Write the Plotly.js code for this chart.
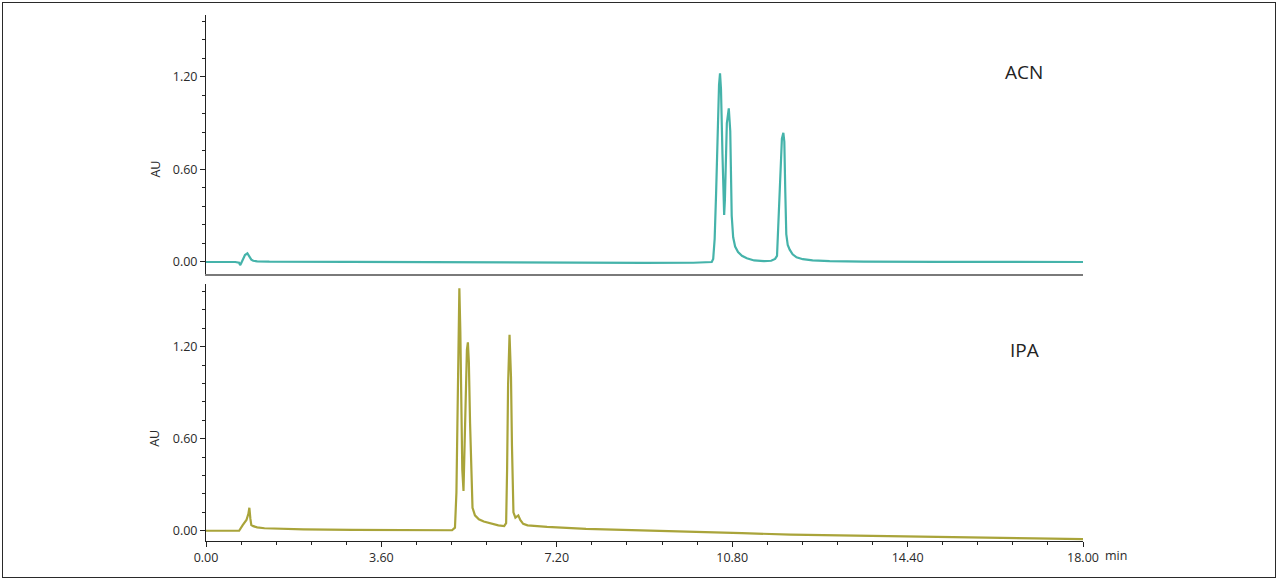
<!DOCTYPE html>
<html>
<head>
<meta charset="utf-8">
<script src="https://cdn.plot.ly/plotly-3.0.1.min.js"></script>
<style>
  html, body { margin: 0; padding: 0; background: #fff; }
  #wrap { position: relative; width: 1280px; height: 582px; }
  #chart { width: 1280px; height: 582px; }
  #frame { position: absolute; left: 2px; top: 2px; width: 1272px; height: 574px;
           border: 1.5px solid #2a2a2a; pointer-events: none; }
</style>
</head>
<body>
<div id="wrap"><div id="chart"></div><div id="frame"></div></div>
<script>
// ---- Data ----
const acnTime = [0, 0.6, 0.68, 0.70, 0.72, 0.76, 0.80, 0.85, 0.89, 0.93, 0.97, 1.05, 1.3, 2, 4, 6, 8, 9, 10, 10.3, 10.38,
  10.41, 10.44, 10.47, 10.50, 10.53, 10.55, 10.57, 10.60, 10.62, 10.635, 10.65, 10.67, 10.69, 10.73, 10.76, 10.79, 10.82, 10.86, 10.92,
  11.0, 11.1, 11.25, 11.45, 11.60, 11.68, 11.72, 11.75, 11.78, 11.82, 11.85, 11.87, 11.89, 11.91, 11.94, 11.98, 12.04,
  12.12, 12.25, 12.45, 12.8, 13.5, 15, 16.5, 18];
const acnAU = [0, 0, -0.005, -0.02, -0.01, 0.02, 0.045, 0.056, 0.035, 0.015, 0.008, 0.004, 0.002, 0.001, 0, -0.002, -0.006, -0.006, -0.005, -0.004, 0.0,
  0.02, 0.15, 0.45, 0.85, 1.15, 1.224, 1.12, 0.7, 0.38, 0.305, 0.4, 0.7, 0.9, 0.997, 0.85, 0.3, 0.16, 0.1, 0.065,
  0.04, 0.024, 0.01, 0.006, 0.008, 0.02, 0.04, 0.25, 0.55, 0.8, 0.838, 0.78, 0.45, 0.18, 0.11, 0.08, 0.05,
  0.03, 0.018, 0.01, 0.005, 0.002, 0.001, 0, 0];

const ipaTime = [0, 0.5, 0.68, 0.75, 0.83, 0.87, 0.89, 0.91, 0.93, 0.97, 1.05, 1.2, 1.5, 2.0, 3.0, 4.0, 4.8, 5.05,
  5.11, 5.14, 5.16, 5.18, 5.20, 5.22, 5.24, 5.26, 5.285, 5.31, 5.33, 5.355, 5.375, 5.395, 5.42, 5.45, 5.47, 5.52,
  5.6, 5.7, 5.85, 6.0, 6.12, 6.16, 6.18, 6.20, 6.23, 6.26, 6.28, 6.31, 6.35, 6.38, 6.41, 6.45, 6.51, 6.6, 7.0, 7.8,
  9, 10, 11, 12, 13, 14, 15, 16, 17, 18];
const ipaAU = [0, 0, 0, 0.035, 0.07, 0.11, 0.15, 0.08, 0.037, 0.03, 0.022, 0.016, 0.012, 0.009, 0.006, 0.004, 0.002, 0.003,
  0.02, 0.25, 0.7, 1.25, 1.581, 1.3, 0.8, 0.4, 0.26, 0.55, 0.95, 1.18, 1.229, 1.1, 0.7, 0.3, 0.15, 0.1,
  0.075, 0.06, 0.045, 0.035, 0.03, 0.05, 0.4, 0.95, 1.277, 1.0, 0.55, 0.12, 0.085, 0.095, 0.1, 0.07, 0.045, 0.035, 0.025, 0.012,
  0.0, -0.008, -0.016, -0.025, -0.031, -0.036, -0.041, -0.045, -0.05, -0.055];

const xTickVals = [0, 3.6, 7.2, 10.8, 14.4, 18];
const xTickText = ["0.00", "3.60", "7.20", "10.80", "14.40", "18.00"];
const yTickVals = [0, 0.6, 1.2];
const yTickText = ["0.00", "0.60", "1.20"];
const seriesNames = ["ACN", "IPA"];
const yTitle = "AU";
const xUnit = "min";

const tickFont = {family: "Open Sans, Arial, sans-serif", size: 12.5, color: "#2a2a2a"};

const traces = [
  {x: acnTime, y: acnAU, xaxis: "x2", yaxis: "y2", type: "scatter", mode: "lines",
   line: {color: "#45b3aa", width: 2.2}, name: seriesNames[0], hoverinfo: "skip"},
  {x: ipaTime, y: ipaAU, xaxis: "x", yaxis: "y", type: "scatter", mode: "lines",
   line: {color: "#a9a43a", width: 2.2}, name: seriesNames[1], hoverinfo: "skip"}
];

const yCommon = {
  tickvals: yTickVals, ticktext: yTickText, ticks: "outside", ticklen: 5, tickwidth: 1, tickcolor: "#222",
  showline: true, linecolor: "#222", linewidth: 1, showgrid: false, zeroline: false,
  tickfont: tickFont,
  minor: {dtick: 0.12, tick0: 0, ticks: "outside", ticklen: 3, tickcolor: "#222", showgrid: false}
};

const layout = {
  width: 1280, height: 582,
  margin: {l: 206, r: 197, t: 15, b: 41},
  paper_bgcolor: "#fff", plot_bgcolor: "#fff",
  showlegend: false,
  xaxis: {
    domain: [0, 1], anchor: "y", range: [0, 18],
    tickvals: xTickVals, ticktext: xTickText, ticks: "outside", ticklen: 5, tickwidth: 1, tickcolor: "#222",
    showline: true, linecolor: "#222", linewidth: 1, showgrid: false, zeroline: false, tickfont: tickFont,
    minor: {dtick: 0.72, tick0: 0, ticks: "outside", ticklen: 3, tickcolor: "#222", showgrid: false}
  },
  xaxis2: {
    domain: [0, 1], anchor: "y2", range: [0, 18], matches: "x",
    showticklabels: false, ticks: "", showline: true, linecolor: "#7a7a7a", linewidth: 2,
    showgrid: false, zeroline: false
  },
  yaxis: Object.assign({}, yCommon, {domain: [0, 0.4886], anchor: "x", range: [-0.067, 1.609]}),
  yaxis2: Object.assign({}, yCommon, {domain: [0.5067, 1], anchor: "x2", range: [-0.081, 1.602]}),
  annotations: [
    {text: yTitle, xref: "paper", yref: "y2", x: -0.058, y: 0.6, textangle: -90, showarrow: false,
     xanchor: "center", yanchor: "middle", font: {family: "Open Sans, Arial, sans-serif", size: 12.5, color: "#2a2a2a"}},
    {text: yTitle, xref: "paper", yref: "y", x: -0.058, y: 0.6, textangle: -90, showarrow: false,
     xanchor: "center", yanchor: "middle", font: {family: "Open Sans, Arial, sans-serif", size: 12.5, color: "#2a2a2a"}},
    {text: seriesNames[0], xref: "x2", yref: "y2", x: 16.79, y: 1.232, showarrow: false,
     xanchor: "center", yanchor: "middle", font: {family: "Open Sans, Arial, sans-serif", size: 19, color: "#222"}},
    {text: seriesNames[1], xref: "x", yref: "y", x: 16.79, y: 1.179, showarrow: false,
     xanchor: "center", yanchor: "middle", font: {family: "Open Sans, Arial, sans-serif", size: 19, color: "#222"}},
    {text: xUnit, xref: "paper", yref: "paper", x: 1.0225, y: -0.0285, showarrow: false,
     xanchor: "left", yanchor: "middle", font: tickFont}
  ]
};

Plotly.newPlot("chart", traces, layout, {displayModeBar: false, staticPlot: true});
</script>
</body>
</html>
